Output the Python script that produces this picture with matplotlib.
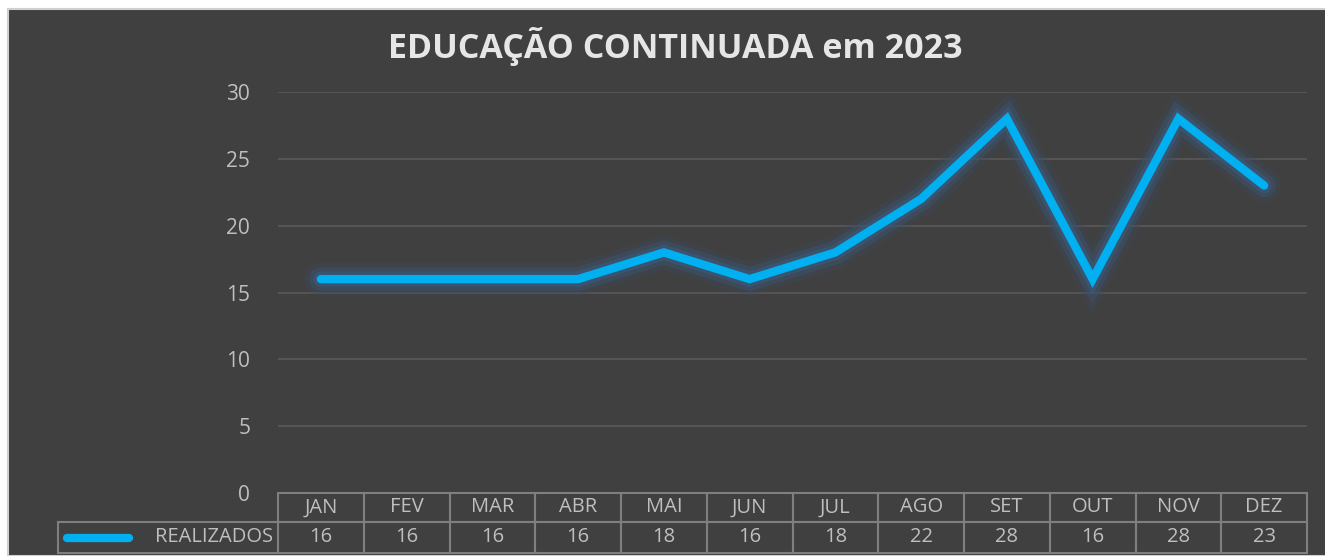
import matplotlib.pyplot as plt
import matplotlib.patheffects as pe
from matplotlib import transforms
from matplotlib.patches import Rectangle

meses = ['JAN', 'FEV', 'MAR', 'ABR', 'MAI', 'JUN', 'JUL', 'AGO', 'SET', 'OUT', 'NOV', 'DEZ']
realizados = [16, 16, 16, 16, 18, 16, 18, 22, 28, 16, 28, 23]
serie = 'REALIZADOS'
titulo = 'EDUCAÇÃO CONTINUADA em 2023'

fundo = '#404040'
azul = '#00b0f0'
texto = '#bfbfbf'
borda = '#7f7f7f'

plt.rcParams['font.family'] = ['Open Sans', 'DejaVu Sans']

fig = plt.figure(figsize=(13.25, 5.56), dpi=100)
fig.patch.set_facecolor('white')
fig.patches.append(Rectangle((8 / 1325, 0), 1, 1 - 9 / 556, transform=fig.transFigure,
                             facecolor=fundo, edgecolor='#d0d0d0', linewidth=1.5, zorder=-10))

ax = fig.add_axes([278 / 1325, 1 - 493 / 556, 1029 / 1325, 401 / 556])
ax.patch.set_alpha(0)

x = list(range(len(meses)))
glow = [pe.Stroke(linewidth=24, foreground='#3a4a60', alpha=0.3),
        pe.Stroke(linewidth=17, foreground='#3a5370', alpha=0.45),
        pe.Stroke(linewidth=11, foreground='#3a5c80', alpha=0.6),
        pe.Normal()]
ax.plot(x, realizados, color=azul, linewidth=6, solid_capstyle='round',
        solid_joinstyle='miter', path_effects=glow, zorder=3)

ax.set_xlim(-0.5, len(meses) - 0.5)
ax.set_ylim(0, 30)
ax.set_yticks(range(0, 31, 5))
ax.set_xticks([])
ax.tick_params(axis='y', length=0, pad=20, labelcolor=texto, labelsize=15)
ax.grid(axis='y', color='#595959', linewidth=1.2)
ax.set_axisbelow(True)
for s in ax.spines.values():
    s.set_visible(False)

# tabela de dados abaixo do grafico
tr = transforms.blended_transform_factory(ax.transData, ax.transAxes)
h1 = 29 / 401
h2 = 31 / 401
esq = -0.5 - 220 / (1029 / 12)
for i, (m, v) in enumerate(zip(meses, realizados)):
    ax.add_patch(Rectangle((i - 0.5, -h1), 1, h1, transform=tr, fill=False,
                           edgecolor=borda, linewidth=1.5, clip_on=False))
    ax.add_patch(Rectangle((i - 0.5, -h1 - h2), 1, h2, transform=tr, fill=False,
                           edgecolor=borda, linewidth=1.5, clip_on=False))
    ax.text(i, -h1 / 2, m, transform=tr, ha='center', va='center',
            color=texto, fontsize=14.5)
    ax.text(i, -h1 - h2 / 2, str(v), transform=tr, ha='center', va='center',
            color=texto, fontsize=14.5)
ax.add_patch(Rectangle((esq, -h1 - h2), -0.5 - esq, h2, transform=tr, fill=False,
                       edgecolor=borda, linewidth=1.5, clip_on=False))
ax.plot([esq + 0.1, esq + 0.83], [-h1 - h2 / 2] * 2, transform=tr, color=azul,
        linewidth=6, solid_capstyle='round', clip_on=False)
ax.text(-0.56, -h1 - h2 / 2, serie, transform=tr, ha='right', va='center',
        color=texto, fontsize=14.5)

fig.text(675 / 1325, 1 - 47 / 556, titulo, ha='center', va='center',
         color='#e6e6e6', fontsize=24.5, fontweight='bold')

fig.savefig('out.png', dpi=100, facecolor=fig.get_facecolor())
